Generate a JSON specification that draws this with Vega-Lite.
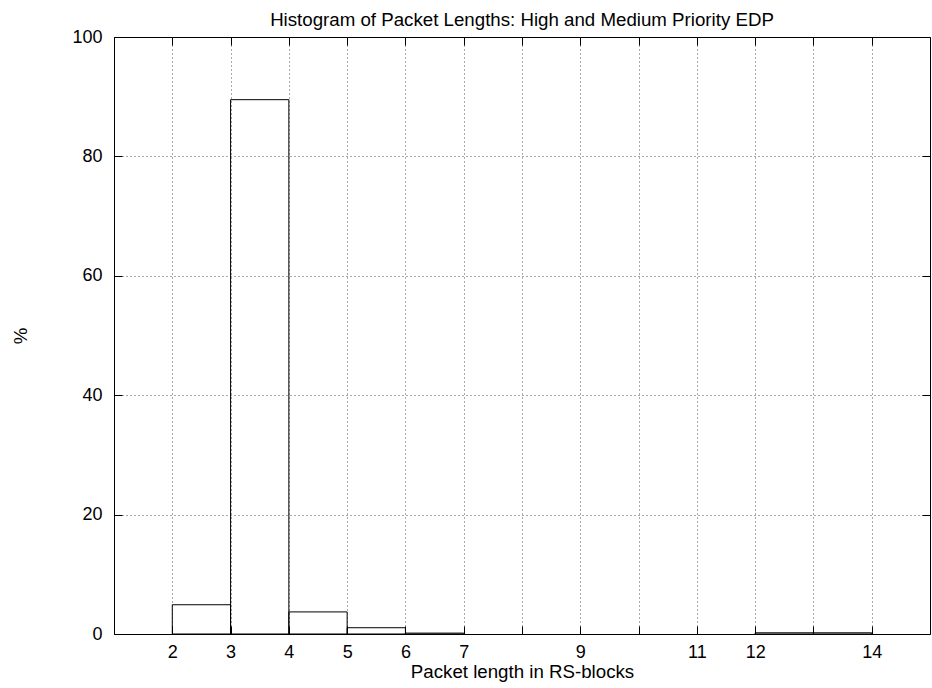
{
  "$schema": "https://vega.github.io/schema/vega-lite/v6.json",
  "width": 816,
  "height": 597,
  "autosize": "none",
  "padding": {"left": 114, "top": 37, "right": 2, "bottom": 54},
  "background": "white",
  "config": {
    "view": {"stroke": null},
    "font": "Liberation Sans",
    "axis": {
      "labelFont": "Liberation Sans",
      "labelFontSize": 18,
      "labelColor": "black",
      "titleFont": "Liberation Sans",
      "titleFontSize": 18.7,
      "titleFontWeight": "normal",
      "titleColor": "black",
      "domainColor": "black",
      "domainWidth": 1,
      "tickColor": "black",
      "tickWidth": 1,
      "gridColor": "#555555",
      "gridDash": [1, 3],
      "gridWidth": 1,
      "gridOpacity": 1
    }
  },
  "title": {
    "text": "Histogram of Packet Lengths: High and Medium Priority EDP",
    "font": "Liberation Sans",
    "fontSize": 18.7,
    "fontWeight": "normal",
    "color": "black",
    "anchor": "middle",
    "frame": "group",
    "baseline": "alphabetic",
    "offset": 2,
    "dy": 18.5
  },
  "resolve": {"axis": {"x": "independent", "y": "independent"}},
  "layer": [
    {
      "data": {
        "values": [
          {"start": 2, "end": 3, "pct": 4.9},
          {"start": 3, "end": 4, "pct": 89.5},
          {"start": 4, "end": 5, "pct": 3.7},
          {"start": 5, "end": 6, "pct": 1.05},
          {"start": 6, "end": 7, "pct": 0.15},
          {"start": 12, "end": 13, "pct": 0.2},
          {"start": 13, "end": 14, "pct": 0.2}
        ]
      },
      "mark": {"type": "rect", "fill": null, "fillOpacity": 0, "stroke": "black", "strokeWidth": 1},
      "encoding": {
        "x": {
          "field": "start",
          "type": "quantitative",
          "scale": {"domain": [1, 15], "nice": false, "zero": false},
          "axis": {
            "orient": "bottom",
            "title": "Packet length in RS-blocks",
            "titleX": 408,
            "titleY": 43.5,
            "titleBaseline": "alphabetic",
            "titleAlign": "center",
            "values": [2, 3, 4, 5, 6, 7, 8, 9, 10, 11, 12, 13, 14],
            "labelExpr": "indexof([8, 10, 13], datum.value) >= 0 ? '' : datum.label",
            "grid": true,
            "tickSize": -8,
            "labelPadding": 31.5,
            "labelBaseline": "alphabetic"
          }
        },
        "x2": {"field": "end"},
        "y": {
          "field": "pct",
          "type": "quantitative",
          "scale": {"domain": [0, 100], "nice": false},
          "axis": {
            "orient": "left",
            "title": "%",
            "titleX": -94,
            "titleY": 298.5,
            "titleAngle": -90,
            "titleAlign": "center",
            "titleBaseline": "middle",
            "values": [0, 20, 40, 60, 80, 100],
            "grid": true,
            "tickSize": -8,
            "labelPadding": 20
          }
        },
        "y2": {"datum": 0}
      }
    },
    {
      "mark": {"type": "rule", "stroke": "black", "strokeWidth": 1},
      "encoding": {
        "x": {
          "datum": 1,
          "type": "quantitative",
          "axis": {
            "orient": "top",
            "title": null,
            "labels": false,
            "grid": false,
            "tickSize": -8,
            "values": [2, 3, 4, 5, 6, 7, 8, 9, 10, 11, 12, 13, 14]
          }
        },
        "x2": {"datum": 15},
        "y": {
          "datum": 0,
          "type": "quantitative",
          "axis": {
            "orient": "right",
            "title": null,
            "labels": false,
            "grid": false,
            "tickSize": -8,
            "values": [0, 20, 40, 60, 80, 100]
          }
        }
      }
    }
  ]
}
